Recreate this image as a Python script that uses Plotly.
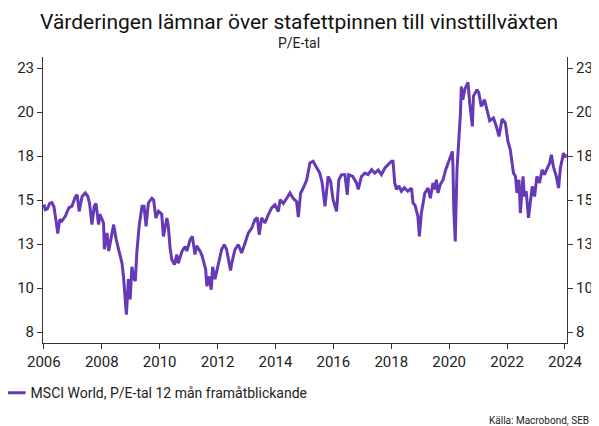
import plotly.graph_objects as go

# Decimal years and P/E values
years = [
    2006.00, 2006.05, 2006.12, 2006.20, 2006.28, 2006.35, 2006.43, 2006.48, 2006.55, 2006.62,
    2006.74, 2006.86, 2006.97, 2007.09, 2007.15, 2007.22, 2007.32, 2007.43, 2007.52, 2007.58,
    2007.66, 2007.74, 2007.80, 2007.89, 2007.93, 2008.06, 2008.09, 2008.18, 2008.24, 2008.32,
    2008.41, 2008.50, 2008.58, 2008.64, 2008.70, 2008.75, 2008.81, 2008.85, 2008.92, 2008.98,
    2009.04, 2009.12, 2009.16, 2009.21, 2009.29, 2009.35, 2009.39, 2009.46, 2009.53, 2009.61,
    2009.73, 2009.79, 2009.87, 2009.96, 2010.07, 2010.13, 2010.25, 2010.30, 2010.36, 2010.42,
    2010.51, 2010.59, 2010.64, 2010.77, 2010.88, 2010.94, 2011.05, 2011.13, 2011.22, 2011.28,
    2011.40, 2011.47, 2011.59, 2011.63, 2011.71, 2011.78, 2011.83, 2011.91, 2012.03, 2012.14,
    2012.23, 2012.31, 2012.40, 2012.45, 2012.49, 2012.60, 2012.72, 2012.83, 2012.95, 2013.06,
    2013.18, 2013.29, 2013.37, 2013.44, 2013.52, 2013.64, 2013.75, 2013.87, 2013.98, 2014.10,
    2014.16, 2014.27, 2014.39, 2014.50, 2014.61, 2014.73, 2014.79, 2014.87, 2014.96, 2015.08,
    2015.19, 2015.30, 2015.42, 2015.53, 2015.61, 2015.68, 2015.71, 2015.76, 2015.82, 2015.90,
    2015.99, 2016.11, 2016.19, 2016.28, 2016.40, 2016.48, 2016.53, 2016.67, 2016.80, 2016.86,
    2016.97, 2017.09, 2017.20, 2017.32, 2017.43, 2017.55, 2017.66, 2017.78, 2017.89, 2018.01,
    2018.06, 2018.12, 2018.18, 2018.26, 2018.35, 2018.45, 2018.57, 2018.70, 2018.75, 2018.82,
    2018.92, 2018.97, 2019.04, 2019.10, 2019.16, 2019.27, 2019.35, 2019.44, 2019.50, 2019.56,
    2019.61, 2019.70, 2019.79, 2019.88, 2019.96, 2020.04, 2020.11, 2020.13, 2020.16, 2020.21,
    2020.27, 2020.34, 2020.39, 2020.42, 2020.47, 2020.54, 2020.65, 2020.71, 2020.80, 2020.84,
    2020.96, 2021.02, 2021.11, 2021.22, 2021.32, 2021.40, 2021.53, 2021.63, 2021.72, 2021.83,
    2021.94, 2022.03, 2022.11, 2022.18, 2022.22, 2022.29, 2022.34, 2022.41, 2022.46, 2022.55,
    2022.60, 2022.66, 2022.74, 2022.80, 2022.87, 2022.95, 2023.03, 2023.12, 2023.21, 2023.29,
    2023.37, 2023.47, 2023.53, 2023.60, 2023.70, 2023.78, 2023.84, 2023.90, 2023.95, 2024.00,
    2024.02,
]
pe_values = [
    14.75, 14.45, 14.50, 14.80, 14.85, 14.60, 13.70, 13.10, 13.90, 13.80,
    14.07, 14.55, 14.65, 15.20, 15.30, 14.35, 15.20, 15.40, 15.20, 14.80,
    13.60, 14.64, 14.80, 13.60, 14.20, 13.70, 12.20, 13.13, 12.10, 12.80,
    13.60, 12.75, 12.20, 11.90, 11.40, 10.66, 8.95, 8.48, 10.50, 9.35,
    11.20, 10.50, 10.40, 12.00, 13.50, 14.26, 14.64, 14.64, 13.50, 14.83,
    15.10, 15.00, 13.98, 14.36, 14.20, 12.93, 13.98, 13.50, 12.27, 11.60,
    11.33, 11.90, 11.40, 12.08, 12.36, 12.10, 12.74, 12.93, 11.90, 12.40,
    12.08, 11.80, 11.04, 10.10, 10.66, 9.90, 11.20, 10.50, 11.42, 12.18,
    12.46, 12.20, 11.42, 11.00, 11.40, 12.18, 12.46, 11.99, 12.56, 13.12,
    13.40, 13.88, 14.00, 13.03, 13.98, 13.70, 14.16, 14.55, 14.73, 14.35,
    15.02, 14.80, 15.10, 15.40, 15.10, 14.90, 14.03, 15.40, 15.68, 16.15,
    17.10, 17.20, 16.85, 16.53, 16.00, 14.90, 14.64, 15.40, 16.34, 16.10,
    15.02, 14.35, 16.15, 16.44, 16.44, 15.30, 16.44, 16.34, 15.97, 15.60,
    16.34, 16.53, 16.44, 16.72, 16.53, 16.70, 16.44, 16.82, 17.00, 17.20,
    17.20, 15.97, 15.60, 15.80, 15.50, 15.70, 15.50, 15.68, 14.83, 14.70,
    14.07, 12.93, 14.26, 14.83, 15.40, 15.68, 15.10, 15.97, 15.60, 16.15,
    15.40, 15.90, 16.15, 16.72, 17.10, 17.48, 17.76, 16.90, 14.45, 12.65,
    16.72, 18.61, 19.94, 21.45, 20.70, 21.30, 21.68, 20.50, 19.18, 20.90,
    21.27, 21.10, 20.32, 20.70, 19.94, 19.50, 19.66, 19.18, 18.61, 19.60,
    19.37, 18.33, 17.86, 17.10, 16.53, 16.34, 15.40, 16.15, 14.26, 16.34,
    15.20, 15.50, 13.98, 14.83, 15.77, 15.20, 16.34, 15.97, 16.72, 16.44,
    16.72, 17.10, 17.57, 16.90, 16.34, 15.68, 16.80, 17.20, 17.67, 17.40,
    17.60,
]

x_ticks = [2006, 2008, 2010, 2012, 2014, 2016, 2018, 2020, 2022, 2024]
y_ticks = [7.5, 10, 12.5, 15, 17.5, 20, 22.5]
series_name = "MSCI World, P/E-tal 12 mån framåtblickande"
title_text = "Värderingen lämnar över stafettpinnen till vinsttillväxten"
subtitle_text = "P/E-tal"
source_text = "Källa: Macrobond, SEB"

LINE_COLOR = "#6639B7"
AXIS_COLOR = "#333333"
FONT = "Roboto, Inter, sans-serif"
y_range = [6.875, 23.125]

fig = go.Figure()
fig.add_trace(go.Scatter(
    x=years, y=pe_values, mode="lines", name=series_name,
    line=dict(color=LINE_COLOR, width=3),
))
# invisible companion trace for the right-hand axis
fig.add_trace(go.Scatter(
    x=years, y=pe_values, mode="lines", yaxis="y2", showlegend=False,
    hoverinfo="skip", line=dict(color="rgba(0,0,0,0)", width=0),
))

axis_font = dict(family=FONT, size=15, color="#222222")
common_axis = dict(
    showgrid=False, zeroline=False, showline=True, linecolor=AXIS_COLOR,
    linewidth=1, ticks="outside", ticklen=5, tickcolor=AXIS_COLOR,
    tickfont=axis_font, automargin=False,
)
# The page body has an 8px default margin, so the figure is sized to fit
# the remaining 591x418 area.
fig.update_layout(
    template="none",
    width=591, height=418,
    margin=dict(l=35, r=32, t=49, b=83, autoexpand=False),
    paper_bgcolor="white", plot_bgcolor="white",
    font=dict(family=FONT, color="#222222"),
    xaxis=dict(range=[2005.97, 2024.07], tickvals=x_ticks, tickformat="d",
               **common_axis),
    yaxis=dict(range=y_range, tickvals=y_ticks, tickformat=".0f",
               **common_axis),
    yaxis2=dict(range=y_range, tickvals=y_ticks, tickformat=".0f",
                overlaying="y", side="right", **common_axis),
    showlegend=True,
    legend=dict(
        orientation="h", x=-0.1, xanchor="left", y=-0.175, yanchor="middle",
        font=dict(family=FONT, size=14, color="#222222"),
        bgcolor="rgba(0,0,0,0)",
    ),
    annotations=[
        dict(text=title_text, xref="paper", yref="paper", x=0.4895, y=1,
             xanchor="center", yanchor="middle", yshift=35, showarrow=False,
             font=dict(family=FONT, size=21, color="#111111")),
        dict(text=subtitle_text, xref="paper", yref="paper", x=0.4895, y=1,
             xanchor="center", yanchor="middle", yshift=14, showarrow=False,
             font=dict(family=FONT, size=14, color="#222222")),
        dict(text=source_text, xref="paper", yref="paper", x=1, y=0,
             xanchor="right", yanchor="middle", xshift=24, yshift=-77,
             showarrow=False,
             font=dict(family=FONT, size=10, color="#222222")),
    ],
)

fig.write_html("out.html")
